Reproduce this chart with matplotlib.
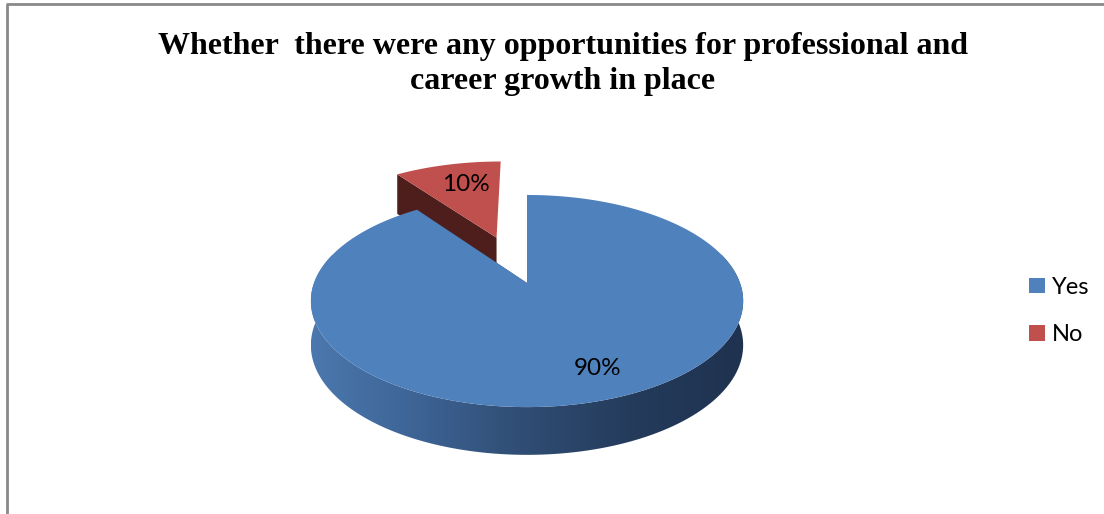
import numpy as np
import matplotlib.pyplot as plt
from matplotlib.colors import LinearSegmentedColormap
from matplotlib.patches import Polygon, Patch

# pie data
labels = ['Yes', 'No']
values = [90, 10]
top_colors = ['#4F81BD', '#C0504D']
cut_colors = ['#2B4566', '#4E1E1C']
explode = [0.0, 0.5]
title = 'Whether  there were any opportunities for professional and\ncareer growth in place'

# side shading of the rim, left to right
rim_colors = ['#4B78AE', '#3D6394', '#2F4C72', '#243B5B', '#1F3250']
rim_cmap = LinearSegmentedColormap.from_list('rim', rim_colors)

# projection of the tilted disk (pixel units)
cx, cy = 527, 283
a, b = 213, 103
k = 0.17
h = 43.5


def proj(u, v, d):
    s = 1.0 / (1.0 + k * v)
    return cx + a * u * s, cy - b * v * s + d * h * np.sqrt(s)


def area(pts):
    x = np.array([p[0] for p in pts])
    y = np.array([p[1] for p in pts])
    return 0.5 * np.sum(x * np.roll(y, -1) - np.roll(x, -1) * y)


fig = plt.figure(figsize=(11.04, 5.14), dpi=100)
ax = fig.add_axes([0, 0, 1, 1])
ax.axis('off')

# slice angles, clockwise from 12 o'clock
total = sum(values)
starts, ends = [], []
ang = np.pi / 2
for v in values:
    starts.append(ang)
    ang -= 2 * np.pi * v / total
    ends.append(ang)
mids = [(s + e) / 2 for s, e in zip(starts, ends)]

# back slices first
order = sorted(range(len(values)), key=lambda i: -np.sin(mids[i]))
for i in order:
    ox = explode[i] * np.cos(mids[i])
    oy = explode[i] * np.sin(mids[i])
    th = np.linspace(starts[i], ends[i], 400)
    us = ox + np.cos(th)
    vs = oy + np.sin(th)

    # radial cut faces (skip the ones seen edge-on)
    for t in (starts[i], ends[i]):
        eu, ev = ox + np.cos(t), oy + np.sin(t)
        pts = [proj(ox, oy, 0), proj(eu, ev, 0), proj(eu, ev, 1), proj(ox, oy, 1)]
        if abs(area(pts)) < 800:
            continue
        ax.add_patch(Polygon(pts, closed=True, facecolor=cut_colors[i], lw=0))

    # outer rim, front part only, shaded left to right
    front = np.sin(th) < 0.3
    if front.sum() > 1:
        xt, yt = proj(us[front], vs[front], 0)
        xb, yb = proj(us[front], vs[front], 1)
        rim = Polygon(list(zip(xt, yt)) + list(zip(xb[::-1], yb[::-1])),
                      closed=True, facecolor='none', lw=0)
        ax.add_patch(rim)
        grad = np.linspace(0, 1, 256).reshape(1, -1)
        im = ax.imshow(grad, cmap=rim_cmap, aspect='auto', interpolation='bilinear',
                       extent=(xt.min(), xt.max(), max(yb.max(), yt.max()), min(yt.min(), yb.min())))
        im.set_clip_path(rim)

    # top face
    xt, yt = proj(us, vs, 0)
    px, py = proj(ox, oy, 0)
    pts = [(px, py)] + list(zip(xt, yt))
    ax.add_patch(Polygon(pts, closed=True, facecolor=top_colors[i], lw=0))

    # percentage label
    r = 0.72
    lx, ly = proj(ox + r * np.cos(mids[i]), oy + r * np.sin(mids[i]), 0)
    if i == 0:
        lx += 17
        ly += 6
    else:
        lx += 6
        ly += 1
    ax.text(lx, ly, f'{values[i]}%', ha='center', va='center',
            fontsize=17.5, family='Lato', color='black')

ax.text(563, 64, title, ha='center', va='center', fontsize=23,
        family='Liberation Serif', fontweight='bold', linespacing=1.27)

handles = [Patch(facecolor=c, edgecolor='none') for c in top_colors]
ax.legend(handles, labels, loc='center left', bbox_to_anchor=(1008 / 1104, 1 - 311 / 514),
          frameon=False, handlelength=0.65, handleheight=0.65, handletextpad=0.3,
          labelspacing=1.12, prop={'family': 'Lato', 'size': 17})

# chart frame
ax.plot([7, 7], [514, 4], color='#898989', lw=2, solid_capstyle='butt')
ax.plot([6, 1104], [4, 4], color='#898989', lw=2, solid_capstyle='butt')

ax.set_xlim(0, 1104)
ax.set_ylim(514, 0)

fig.savefig('out.png', dpi=100)
